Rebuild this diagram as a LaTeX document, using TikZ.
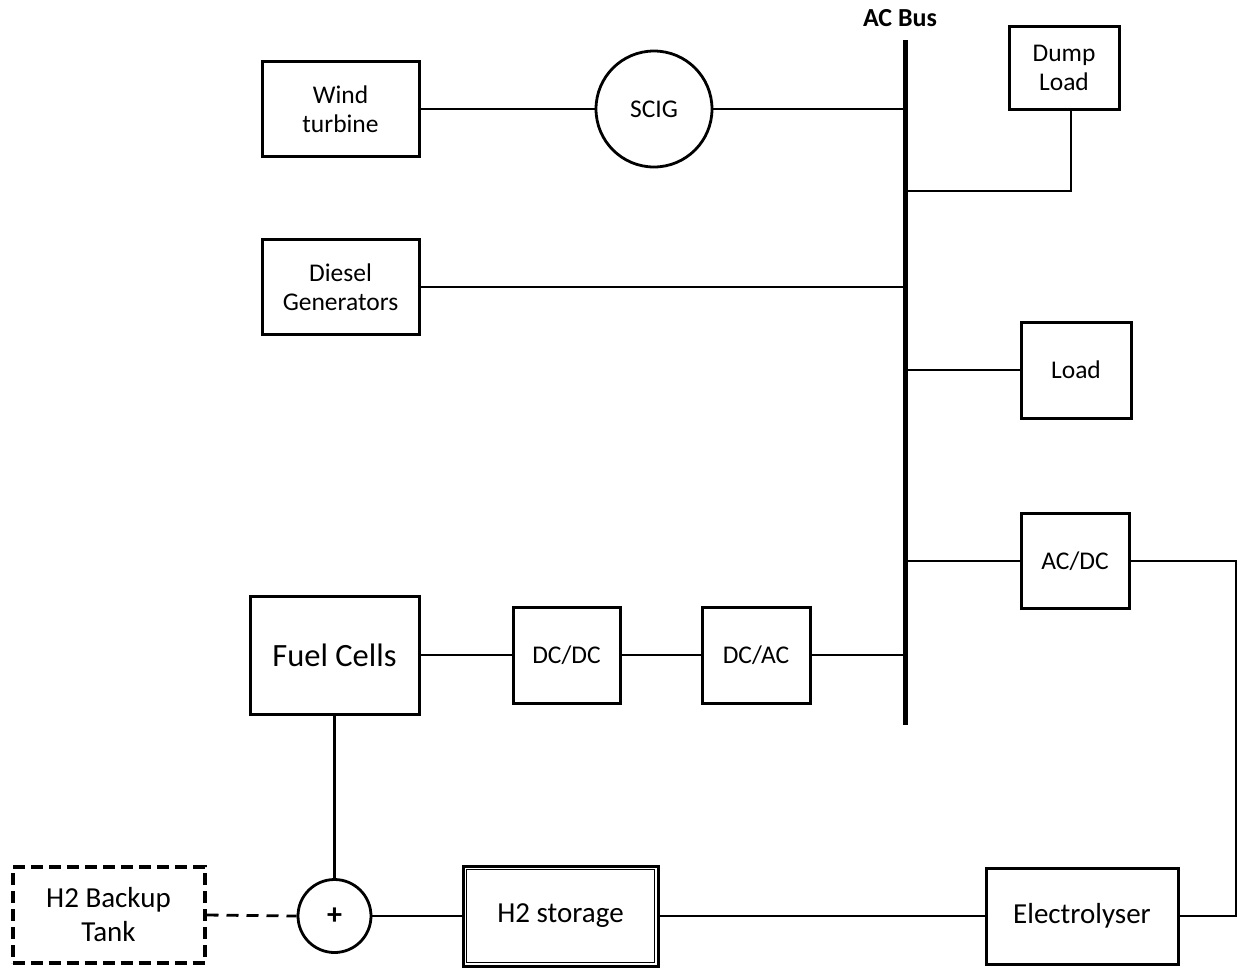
\documentclass[tikz,border=0pt]{standalone}
\usepackage{fontspec}
\setmainfont{Carlito}
\begin{document}
\begin{tikzpicture}[x=1pt,y=-1pt,
  box/.style={draw, line width=3pt, align=center, inner sep=0pt, font=\fontsize{25.5}{29}\selectfont},
  bigbox/.style={box, font=\fontsize{29}{34}\selectfont},
  circ/.style={draw, circle, line width=2.8pt, inner sep=0pt},
  conn/.style={line width=2.8pt},
  dconn/.style={line width=2.8pt, dash pattern=on 12pt off 8pt},
  busline/.style={line width=5pt, line cap=butt}]
\fill[white] (0,0) rectangle (1238,967);
\useasboundingbox (0,0) rectangle (1238,967);

% AC bus
\coordinate (bt) at (905,40);
\coordinate (bb) at (905,725);
\draw[busline] (bt) -- (bb);
\node[font=\fontsize{26}{30}\selectfont\bfseries] (buslabel) at (900,18) {AC Bus};

% nodes
\node[box, minimum width=157pt, minimum height=95pt] (wt) at (340.5,109) {Wind\\turbine};
\node[circ, minimum size=116pt, font=\fontsize{25.5}{29}\selectfont] (scig) at (654,109) {SCIG};
\node[box, minimum width=110pt, minimum height=83pt] (dump) at (1064,67.5) {Dump\\Load};
\node[box, minimum width=157pt, minimum height=95pt] (diesel) at (340.5,287) {Diesel\\Generators};
\node[box, minimum width=110pt, minimum height=96pt] (load) at (1076,370) {Load};
\node[box, minimum width=108pt, minimum height=95pt] (acdc) at (1075,561) {AC/DC};
\node[box, minimum width=169pt, minimum height=118pt, font=\fontsize{32.5}{38}\selectfont] (fc) at (334.5,655) {Fuel Cells};
\node[box, minimum width=107pt, minimum height=96pt] (dcdc) at (566.5,655) {DC/DC};
\node[box, minimum width=108pt, minimum height=96pt] (dcac) at (756,655) {DC/AC};
\node[circ, minimum size=73pt, font=\fontsize{30}{34}\selectfont\bfseries] (plus) at (334.5,916) {+};
\node[bigbox, line width=4pt, dash pattern=on 12pt off 6pt, minimum width=192pt, minimum height=96pt] (backup) at (108.5,915) {H2 Backup\\Tank};
\node[bigbox, minimum width=195pt, minimum height=100pt] (store) at (560.5,916) {H2 storage};
\draw[line width=1.2pt] ([xshift=5pt,yshift=-5pt]store.north west) rectangle ([xshift=-5pt,yshift=5pt]store.south east);
\node[bigbox, minimum width=192pt, minimum height=96pt] (elec) at (1082,916) {Electrolyser};

% connectors
\coordinate (d1) at (905,191);
\coordinate (rc) at (1236,916);
\draw[conn] (wt.east) -- (scig.west);
\draw[conn] (scig.east) -- (scig.east -| bt);
\draw[conn] ([xshift=7pt]dump.south) |- (d1);
\draw[conn] (diesel.east) -- (diesel.east -| bt);
\draw[conn] (load.west) -- (load.west -| bt);
\draw[conn] (acdc.west) -- (acdc.west -| bt);
\draw[conn] (acdc.east) -| (rc) -- (elec.east);
\draw[conn] (fc.east) -- (dcdc.west);
\draw[conn] (dcdc.east) -- (dcac.west);
\draw[conn] (dcac.east) -- (dcac.east -| bt);
\draw[conn] (fc.south) -- (plus.north);
\draw[dconn] (backup.east) -- (plus.west);
\draw[conn] (plus.east) -- (store.west);
\draw[conn] (store.east) -- (elec.west);
\end{tikzpicture}
\end{document}
